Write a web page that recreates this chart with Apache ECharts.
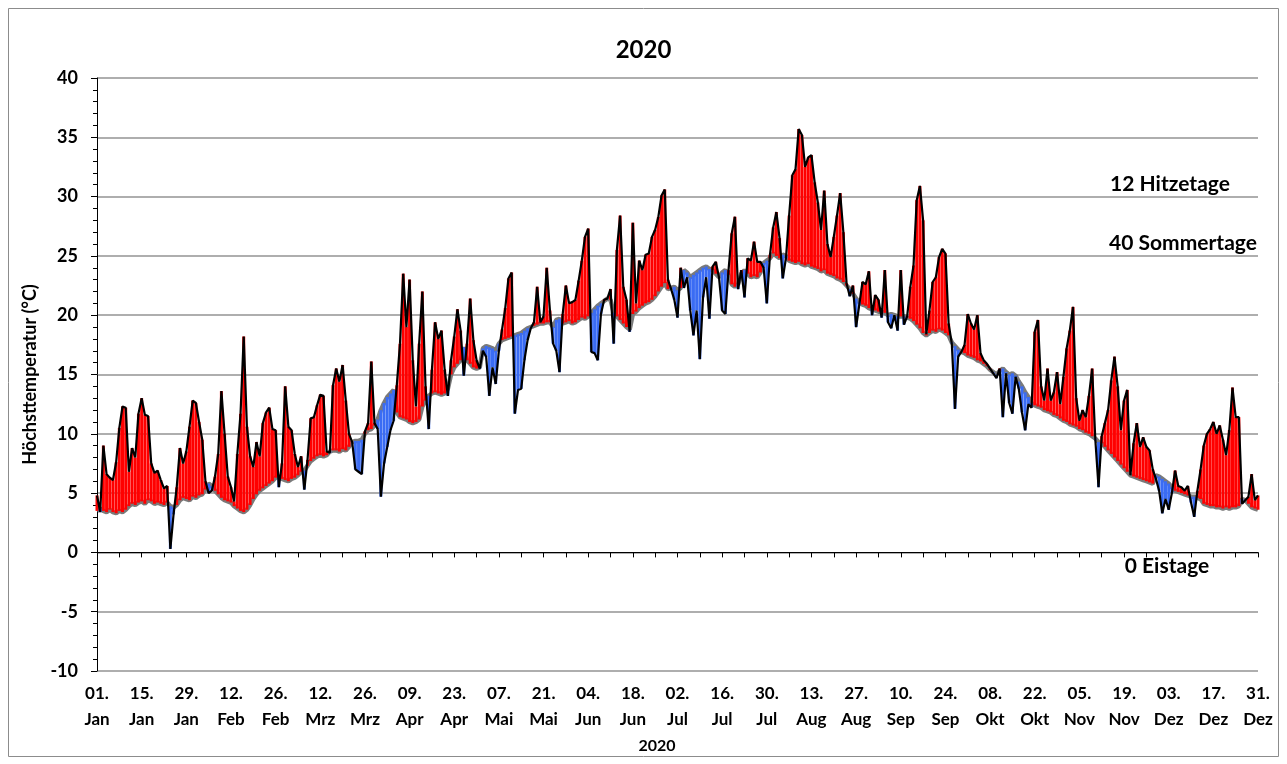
<!DOCTYPE html>
<html><head><meta charset="utf-8">
<script src="https://cdn.jsdelivr.net/npm/echarts@6/dist/echarts.min.js"></script>
<style>html,body{margin:0;padding:0;background:#fff}#c{width:1287px;height:764px}</style>
</head><body><div id="c"></div>
<script>
const monthNames = ['Jan','Feb','Mrz','Apr','Mai','Jun','Jul','Aug','Sep','Okt','Nov','Dez'];
const monthDays = [31,28,31,30,31,30,31,31,30,31,30,31];
const yTicks = {min: -10, max: 40, step: 5};
const annotations = ['12 Hitzetage', '40 Sommertage', '0 Eistage'];

// daily maximum temperature 2020 (°C)
const actual = [4.8,3.4,9.0,6.6,6.3,6.1,7.6,10.5,12.3,12.2,
6.8,8.8,8.0,11.7,13.0,11.6,11.5,7.5,6.7,6.9,
6.1,5.4,5.6,0.3,3.2,5.5,8.8,7.5,8.5,10.6,
12.8,12.6,11.0,9.5,6.0,5.0,5.2,6.4,8.3,13.6,
10.0,6.4,5.5,4.3,8.3,11.7,18.2,10.6,8.1,7.2,
9.3,8.1,10.9,11.8,12.2,10.4,10.3,5.5,7.5,14.0,
10.6,10.3,8.3,7.2,8.1,5.3,7.8,11.3,11.4,12.4,
13.3,13.2,8.5,8.4,14.1,15.5,14.4,15.8,12.8,10.0,
9.3,7.0,6.8,6.6,10.2,10.9,16.1,10.9,10.4,4.7,
7.5,8.9,10.3,11.1,14.1,17.6,23.5,19.0,23.0,16.2,
12.3,17.6,22.0,14.0,10.4,15.4,19.4,18.0,18.7,15.4,
13.2,16.2,18.2,20.5,18.7,14.9,17.6,21.4,17.9,16.2,
15.5,17.0,16.5,13.2,15.6,14.2,17.0,18.8,20.6,23.1,
23.6,11.7,13.7,13.8,16.2,17.9,18.9,19.4,22.4,19.4,
19.9,24.0,20.4,17.6,17.0,15.2,20.1,22.5,21.0,21.1,
21.3,22.9,24.6,26.6,27.3,16.9,16.8,16.2,20.1,21.3,
21.4,22.2,17.6,25.5,28.4,22.4,21.3,18.6,27.8,21.0,
24.6,23.8,25.1,25.2,26.6,27.2,28.3,30.1,30.6,23.0,
22.2,21.3,19.8,24.0,22.3,23.2,20.4,18.3,20.4,16.3,
21.5,23.2,19.7,24.1,24.5,23.2,20.4,20.1,23.8,26.9,
28.3,22.2,23.8,21.5,24.8,24.6,26.2,24.5,24.5,24.0,
21.0,25.1,27.4,28.7,26.5,23.1,24.8,28.4,31.8,32.3,
35.7,35.2,32.5,33.3,33.5,31.2,29.5,27.2,30.5,26.0,
24.9,26.6,28.4,30.3,27.0,22.7,21.6,22.5,19.0,20.9,
22.8,22.6,23.7,20.0,21.7,21.3,19.8,23.8,19.4,18.9,
20.0,18.7,23.8,19.2,19.9,22.4,24.2,29.7,30.9,28.0,
18.4,20.4,22.8,23.2,24.9,25.6,25.2,19.3,17.6,12.1,
16.5,16.9,17.5,20.1,19.3,18.8,20.0,16.8,16.2,15.9,
15.5,15.1,14.7,15.5,11.4,15.1,12.6,11.7,14.8,13.8,
11.8,10.3,12.5,12.2,18.6,19.6,14.0,12.8,15.5,12.8,
13.5,15.2,12.5,14.8,17.2,18.7,20.7,13.0,11.1,12.0,
11.4,13.2,15.5,9.5,5.5,9.8,10.9,12.0,14.5,16.5,
14.0,10.3,12.8,13.7,6.5,9.2,10.9,8.9,9.7,8.9,
8.6,7.0,6.2,5.2,3.3,4.5,3.6,5.0,6.9,5.6,
5.5,5.2,5.6,4.2,3.0,5.2,7.0,9.0,10.0,10.4,
11.0,10.0,10.7,9.5,8.2,10.3,13.9,11.4,11.4,4.1,
4.4,4.7,6.6,4.4,4.8];

// long-term mean of daily maximum (°C)
const mean = [3.5,3.7,3.5,3.4,3.6,3.4,3.3,3.5,3.4,3.6,
3.9,4.1,4.0,4.2,4.3,4.1,4.4,4.3,4.1,4.2,
4.1,4.0,4.2,3.9,3.8,4.0,4.4,4.6,4.5,4.4,
4.7,4.6,4.8,4.9,5.3,5.8,5.6,5.2,4.9,4.6,
4.4,4.3,4.2,3.9,3.7,3.5,3.4,3.6,4.0,4.5,
4.9,5.2,5.4,5.6,5.8,6.0,6.3,6.4,6.2,6.1,
6.0,6.2,6.3,6.5,6.8,6.9,7.3,7.7,7.9,8.1,
8.2,8.1,8.2,8.5,8.6,8.6,8.5,8.7,8.6,8.9,
9.3,9.4,9.4,9.5,10.0,10.3,10.4,10.7,11.2,12.0,
12.6,13.1,13.4,13.7,11.8,11.4,11.3,11.2,11.0,10.9,
11.0,11.2,12.3,12.8,13.2,13.4,13.5,13.4,13.3,13.4,
13.8,15.0,15.6,15.9,16.2,17.3,16.2,15.9,15.6,15.5,
15.6,17.2,17.4,17.3,17.2,17.0,17.6,17.9,18.0,18.1,
18.2,18.3,18.4,18.5,18.7,18.9,19.0,19.1,19.2,19.3,
19.3,19.4,19.4,19.0,19.6,19.7,19.3,19.4,19.5,19.3,
19.4,19.6,19.8,19.7,19.9,20.2,20.5,20.8,21.0,21.2,
21.4,21.3,20.2,19.9,19.6,19.3,19.0,18.8,20.1,20.3,
20.6,20.8,21.0,21.1,21.3,21.6,22.0,22.4,22.7,22.2,
22.3,22.4,22.1,22.3,23.8,23.6,23.2,23.4,23.6,23.8,
24.0,24.1,23.9,23.8,23.5,23.2,23.6,23.8,23.4,22.6,
22.4,22.6,23.5,23.8,23.5,23.2,23.3,23.2,23.6,24.4,
24.6,24.8,25.2,25.0,24.8,25.1,25.0,24.6,24.5,24.4,
24.5,24.3,24.2,24.3,24.1,24.0,23.9,23.7,23.8,23.5,
23.4,23.3,23.1,23.0,22.8,22.5,22.2,21.8,21.4,21.1,
20.9,20.8,20.6,20.5,20.4,20.3,20.3,20.2,20.0,20.1,
20.0,19.9,19.9,19.9,19.8,19.7,19.5,19.2,18.9,18.5,
18.3,18.5,18.7,18.6,18.8,18.7,18.5,18.3,17.7,17.4,
17.1,16.9,16.8,16.6,16.5,16.4,16.2,16.1,15.9,15.7,
15.4,15.2,15.0,15.3,15.5,15.2,15.0,15.1,14.9,14.4,
14.0,13.5,13.1,12.6,12.4,12.3,12.2,12.0,11.9,11.8,
11.6,11.5,11.3,11.1,11.0,10.8,10.7,10.6,10.4,10.3,
10.1,10.0,9.8,9.6,9.3,9.2,8.9,8.6,8.3,8.0,
7.7,7.4,7.1,6.8,6.5,6.4,6.3,6.2,6.1,6.0,
5.9,5.8,6.5,6.4,6.2,6.0,5.8,5.5,5.2,5.1,
5.0,4.9,4.8,4.7,4.7,4.6,4.5,4.1,4.0,3.9,
3.9,3.8,3.8,3.7,3.8,3.7,3.8,3.8,3.9,4.5,
4.4,4.1,3.8,3.7,3.6];

const categories = [];
monthNames.forEach((m, k) => {
  for (let d = 1; d <= monthDays[k]; d++) categories.push((d < 10 ? '0' : '') + d + '.\n' + m);
});
const base = actual.map((v, i) => Math.min(v, mean[i]));
const above = actual.map((v, i) => v > mean[i] ? +(v - mean[i]).toFixed(2) : 0);
const below = actual.map((v, i) => v < mean[i] ? +(mean[i] - v).toFixed(2) : 0);

const FONT = 'Lato, "Open Sans", "Liberation Sans", sans-serif';
const chart = echarts.init(document.getElementById('c'), null, {renderer: 'canvas'});
chart.setOption({
  animation: false,
  backgroundColor: '#fff',
  title: {text: '2020', left: 'center', top: 33,
    textStyle: {fontFamily: FONT, fontWeight: 'bold', fontSize: 24, color: '#000'}},
  grid: {left: 97, right: 29, top: 78, bottom: 93, containLabel: false},
  xAxis: {
    type: 'category', data: categories, boundaryGap: false,
    axisLine: {show: true, lineStyle: {color: '#000', width: 1}},
    axisTick: {show: true, interval: 6, length: 5, inside: false, lineStyle: {color: '#000', width: 1}},
    axisLabel: {interval: 13, margin: 10, color: '#000', fontFamily: FONT, fontWeight: 'bold',
      fontSize: 17, lineHeight: 26},
    splitLine: {show: false}
  },
  yAxis: {
    type: 'value', min: yTicks.min, max: yTicks.max, interval: yTicks.step,
    name: 'Höchsttemperatur (°C)', nameLocation: 'middle', nameGap: 57,
    nameTextStyle: {fontFamily: FONT, fontWeight: 'bold', fontSize: 18, color: '#000'},
    axisLine: {show: true, lineStyle: {color: '#000', width: 1}},
    axisTick: {show: true, length: 6, inside: false, lineStyle: {color: '#000', width: 1}},
    minorTick: {show: true, splitNumber: 5, length: 4, lineStyle: {color: '#000', width: 1}},
    axisLabel: {margin: 19, color: '#000', fontFamily: FONT, fontWeight: 'bold', fontSize: 18},
    splitLine: {show: true, lineStyle: {color: '#939393', width: 1.6}},
    minorSplitLine: {show: false}
  },
  series: [
    {name: 'base', type: 'bar', stack: 'd', data: base, itemStyle: {color: 'rgba(0,0,0,0)'},
      barCategoryGap: '6%', silent: true, z: 2},
    {name: 'über', type: 'bar', stack: 'd', data: above, itemStyle: {color: '#ff0000'}, z: 2},
    {name: 'unter', type: 'bar', stack: 'd', data: below, itemStyle: {color: '#3a6cf4'}, z: 2},
    {name: 'Mittel', type: 'line', data: mean, symbol: 'none', smooth: false, z: 1,
      lineStyle: {color: '#7a7a7a', width: 4.5}},
    {name: 'Höchsttemperatur', type: 'line', data: actual, symbol: 'none', z: 4,
      lineStyle: {color: '#000', width: 2.2}}
  ],
  graphic: [
    {type: 'rect', silent: true, shape: {x: 8.5, y: 8.5, width: 1270, height: 748},
      style: {fill: 'none', stroke: '#8c8c8c', lineWidth: 1}},
    {type: 'text', x: 657, y: 746, silent: true,
      style: {text: '2020', font: 'bold 16px ' + FONT, fill: '#000', textAlign: 'center', textVerticalAlign: 'middle'}},
    {type: 'text', x: 1170, y: 184, silent: true,
      style: {text: annotations[0], font: 'bold 21px ' + FONT, fill: '#000', textAlign: 'center', textVerticalAlign: 'middle'}},
    {type: 'text', x: 1183, y: 243, silent: true,
      style: {text: annotations[1], font: 'bold 21px ' + FONT, fill: '#000', textAlign: 'center', textVerticalAlign: 'middle'}},
    {type: 'text', x: 1167, y: 566, silent: true,
      style: {text: annotations[2], font: 'bold 21px ' + FONT, fill: '#000', textAlign: 'center', textVerticalAlign: 'middle'}}
  ]
});
</script></body></html>
